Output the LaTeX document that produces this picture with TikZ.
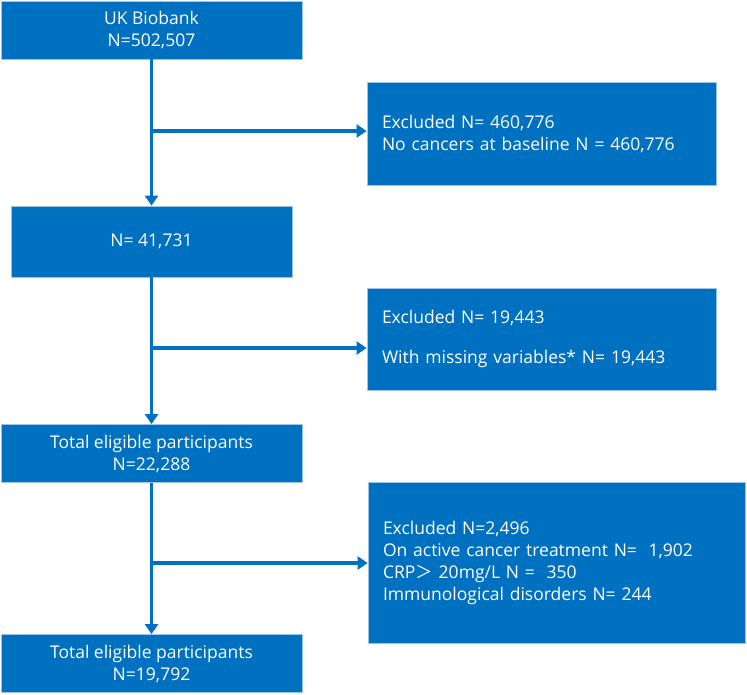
\documentclass[tikz,border=0pt]{standalone}
\usepackage{fontspec}
\setmainfont{Open Sans}
\newfontfamily\cjk{Noto Sans CJK SC}
\usetikzlibrary{positioning,calc,arrows.meta}
\definecolor{boxblue}{RGB}{0,112,192}
\definecolor{edgeblue}{RGB}{157,195,230}

\begin{document}
\begin{tikzpicture}[x=1pt,y=-1pt,
  box/.style={fill=boxblue,draw=edgeblue,line width=0.8pt,text=white,inner sep=0pt,
    font=\fontsize{17.5}{22}\selectfont},
  mainbox/.style={box,align=center,minimum width=301pt,minimum height=58pt},
  exclbox/.style={box,align=left,text width=#1,inner xsep=15pt},
  flow/.style={draw=boxblue,line width=3.5pt,-{Triangle[length=10pt,width=13pt]}}
]
\useasboundingbox (0,0) rectangle (747,694);

% the main stream
\node[mainbox] (biobank) at (151.5,30) {UK Biobank\\N=502,507};
\node[mainbox,minimum width=281pt,minimum height=71pt] (cancer) at (151.5,241.5) {N= 41,731};
\node[mainbox] (eligible) at (151.5,453.5) {Total eligible participants\\N=22,288};
\node[mainbox] (final) at (151.5,663.5) {Total eligible participants\\N=19,792};

% the exclusions
\node[exclbox=319pt,minimum height=103pt] (excl1) at (541.5,133.5)
  {Excluded N= 460,776\\No cancers at baseline N = 460,776};
\node[exclbox=319pt,minimum height=102pt] (excl2) at (541.5,339)
  {Excluded N= 19,443\\[18pt]With missing variables* N= 19,443};
\node[exclbox=347pt,minimum height=161pt] (excl3) at (556.5,562.5)
  {Excluded N=2,496\\On active cancer treatment N=\ \ 1,902\\CRP{\cjk ＞} 20mg/L N =\ \ 350\\Immunological disorders N= 244\\[14pt]};

% the branch points
\coordinate (j1) at (151.5,131);
\coordinate (j2) at (151.5,348);
\coordinate (j3) at (151.5,563);

% the edges
\draw[flow] (biobank) -- (cancer);
\draw[flow] (cancer) -- (eligible);
\draw[flow] (eligible) -- (final);
\draw[flow] (j1) -- (j1 -| excl1.west);
\draw[flow] (j2) -- (j2 -| excl2.west);
\draw[flow] (j3) -- (j3 -| excl3.west);
\end{tikzpicture}
\end{document}
